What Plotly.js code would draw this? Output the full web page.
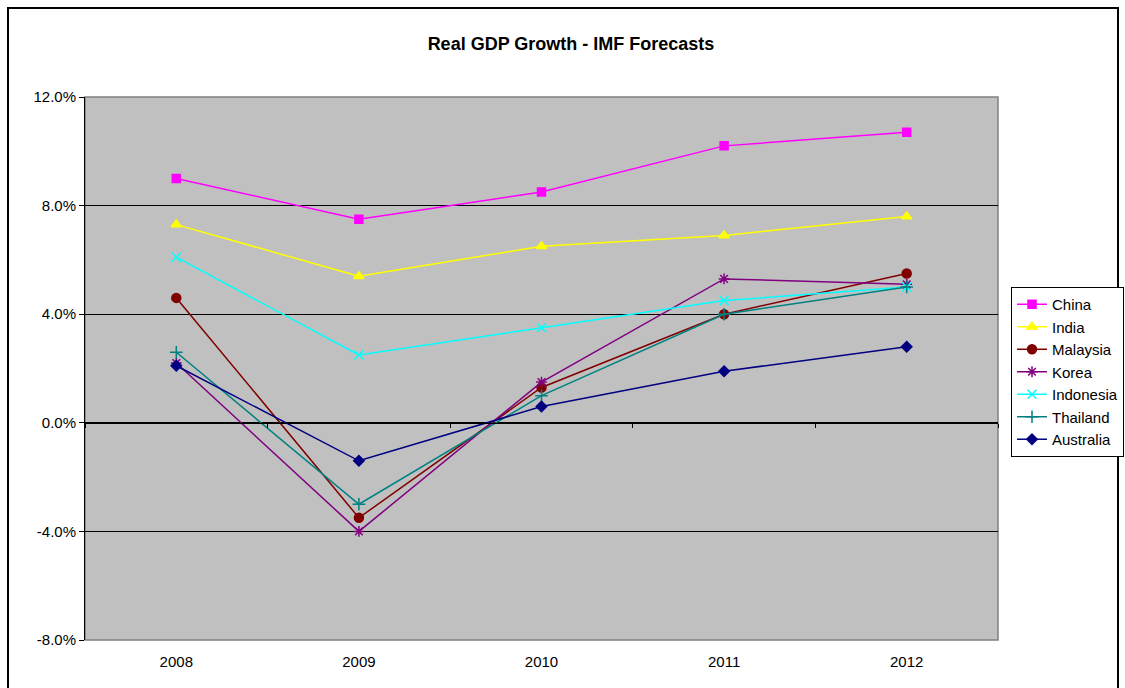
<!DOCTYPE html>
<html>
<head>
<meta charset="utf-8">
<script src="https://cdn.plot.ly/plotly-3.0.1.min.js"></script>
<style>
  html, body { margin: 0; padding: 0; background: #ffffff; }
  #chart { width: 1125px; height: 688px; }
</style>
</head>
<body>
<div id="chart"></div>
<script>
const years = ['2008', '2009', '2010', '2011', '2012'];
const china     = [9.0, 7.5, 8.5, 10.2, 10.7];
const india     = [7.3, 5.4, 6.5, 6.9, 7.6];
const malaysia  = [4.6, -3.5, 1.3, 4.0, 5.5];
const korea     = [2.2, -4.0, 1.5, 5.3, 5.1];
const indonesia = [6.1, 2.5, 3.5, 4.5, 5.0];
const thailand  = [2.6, -3.0, 1.0, 4.0, 5.0];
const australia = [2.1, -1.4, 0.6, 1.9, 2.8];
const yTicks = [-8, -4, 0, 4, 8, 12];

const series = [
  {name: 'China', y: china, color: '#FF00FF', symbol: 'square', size: 8},
  {name: 'India', y: india, color: '#FFFF00', symbol: 'triangle-up', size: 9},
  {name: 'Malaysia', y: malaysia, color: '#800000', symbol: 'circle', size: 9},
  {name: 'Korea', y: korea, color: '#800080', symbol: 'asterisk-open', size: 9},
  {name: 'Indonesia', y: indonesia, color: '#00FFFF', symbol: 'x-thin-open', size: 9},
  {name: 'Thailand', y: thailand, color: '#008080', symbol: 'cross-thin-open', size: 9},
  {name: 'Australia', y: australia, color: '#000080', symbol: 'diamond', size: 8}
];

const traces = series.map(s => ({
  type: 'scatter', mode: 'lines+markers', name: s.name,
  x: years, y: s.y,
  line: {color: s.color, width: 1.5},
  marker: {symbol: s.symbol, size: s.size, color: s.color, line: {color: s.color, width: 1.5}}
}));

// helper trace for the axis crossing at zero
traces.push({
  type: 'scatter', mode: 'markers', x: years, y: years.map(() => null),
  xaxis: 'x2', showlegend: false, hoverinfo: 'skip', marker: {opacity: 0}
});

const font = {family: 'Liberation Sans, Arial, sans-serif', color: '#000000'};

const layout = {
  width: 1125, height: 688,
  margin: {l: 85, r: 127, t: 97, b: 48},
  paper_bgcolor: '#ffffff',
  plot_bgcolor: '#C0C0C0',
  font: font,
  title: {text: '<b>Real GDP Growth - IMF Forecasts</b>', x: 571 / 1125, xref: 'container', xanchor: 'center',
          y: 1 - 44 / 688, yanchor: 'middle',
          font: {family: font.family, size: 18, color: '#000000'}},
  showlegend: true,
  legend: {
    x: 1011 / 1125, xref: 'container', xanchor: 'left',
    y: 1 - 287 / 688, yref: 'container', yanchor: 'top',
    bordercolor: '#000000', borderwidth: 1, bgcolor: '#ffffff',
    font: {family: font.family, size: 15, color: '#000000'},
    tracegroupgap: 0, itemwidth: 30
  },
  xaxis: {
    type: 'category', range: [-0.5, 4.5],
    showgrid: false, zeroline: false, showline: false,
    ticks: '', tickfont: {family: font.family, size: 15, color: '#000000'},
    ticklabelstandoff: 11, fixedrange: true
  },
  xaxis2: {
    type: 'category', range: [-0.5, 4.5], overlaying: 'x', anchor: 'free', position: 0.4,
    showgrid: false, zeroline: false, showline: true, linecolor: '#000000', linewidth: 1,
    ticks: 'outside', ticklen: 4, tickcolor: '#000000', tickson: 'boundaries',
    showticklabels: false, fixedrange: true
  },
  yaxis: {
    range: [-8, 12], tickvals: yTicks, ticktext: yTicks.map(v => v.toFixed(1) + '%'),
    showgrid: true, gridcolor: '#000000', gridwidth: 1,
    zeroline: false, showline: true, linecolor: '#000000', linewidth: 1,
    ticks: 'outside', ticklen: 5, tickcolor: '#000000',
    tickfont: {family: font.family, size: 15, color: '#000000'}, fixedrange: true
  },
  shapes: [
    {type: 'rect', xref: 'paper', yref: 'paper', x0: 0, x1: 1, y0: 0, y1: 1,
     line: {color: '#808080', width: 1.5}, layer: 'below'},
    {type: 'rect', xref: 'paper', yref: 'paper',
     x0: (8 - 85) / 913, x1: (1118 - 85) / 913, y0: -0.2, y1: (640 - 8) / 543,
     line: {color: '#000000', width: 2}}
  ]
};

Plotly.newPlot('chart', traces, layout, {displayModeBar: false, staticPlot: true});
</script>
</body>
</html>
